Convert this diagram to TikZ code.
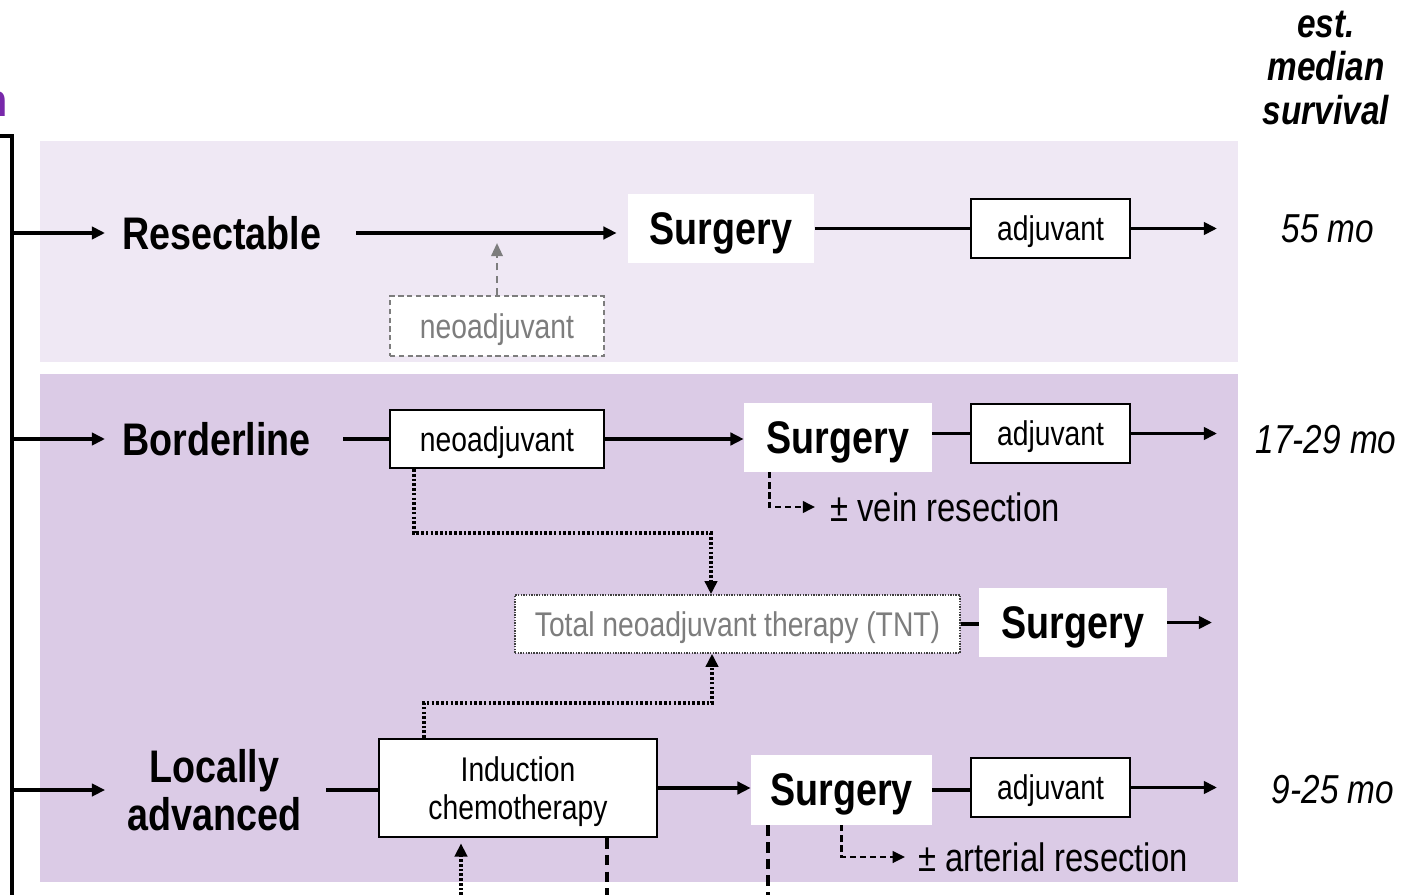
\documentclass[tikz,border=0pt]{standalone}
\usepackage{fontspec}
\setmainfont{Liberation Sans}[FakeStretch=0.825]
\usetikzlibrary{arrows.meta}
\definecolor{resectbg}{RGB}{239,232,244}
\definecolor{advbg}{RGB}{219,203,230}
\definecolor{optgrey}{RGB}{125,125,125}
\definecolor{titlepurple}{RGB}{120,40,170}

\begin{document}
\begin{tikzpicture}[x=0.02cm,y=-0.02cm,
    flow/.style={line width=1.9pt,-{Triangle[length=7.5pt,width=7pt]}},
    link/.style={line width=1.9pt},
    optflow/.style={optgrey,line width=1.4pt,dash pattern=on 4pt off 3pt,-{Triangle[length=7.5pt,width=6.5pt]}},
    dotflow/.style={line width=2pt,dash pattern=on 1.5pt off 1.2pt,-{Triangle[length=7.5pt,width=7pt]}},
    dashflow/.style={line width=1.6pt,dash pattern=on 3.5pt off 2.2pt,-{Triangle[length=7pt,width=6.5pt]}},
    dashline/.style={line width=1.8pt,dash pattern=on 6pt off 3.5pt},
    stage/.style={font=\fontsize{26}{27}\selectfont\bfseries,inner xsep=0.34cm,inner ysep=0pt,align=center},
    surgbox/.style={fill=white,inner sep=0pt,text depth=0pt,minimum width=3.74cm,minimum height=1.4cm,font=\fontsize{26}{27}\selectfont\bfseries},
    txbox/.style={draw,line width=1.3pt,fill=white,inner sep=0pt,text depth=0pt,font=\fontsize{19.5}{22}\selectfont},
    adjbox/.style={txbox,minimum width=3.18cm,minimum height=1.18cm},
    note/.style={anchor=west,inner sep=0pt,font=\fontsize{22.6}{24}\selectfont},
    survive/.style={font=\fontsize{23}{25}\selectfont\itshape}]
  \useasboundingbox (0,0) rectangle (1410,895);
  % background bands
  \fill[resectbg] (40,141) rectangle (1238,362);
  \fill[advbg] (40,374) rectangle (1238,882);

  \node[anchor=base east,inner sep=0pt,text=titlepurple,font=\fontsize{26}{27}\selectfont\bfseries] (cut) at (8,117) {n};
  \node[font=\fontsize{23}{25}\selectfont\bfseries\itshape,align=center] (survhead) at (1326,68) {est.\\median\\survival};

  % resectable
  \node[stage,anchor=west] (resect) at (105,233) {Resectable};
  \node[surgbox] (surg1) at (721,228.5) {Surgery};
  \node[adjbox] (adj1) at (1050.5,228.5) {adjuvant};
  \node[txbox,draw=optgrey,dash pattern=on 3pt off 2pt,text=optgrey,minimum width=4.28cm,minimum height=1.2cm] (neo1) at (497,326) {neoadjuvant};
  \node[survive] (mo1) at (1328,229) {55 mo};
  \coordinate (end1) at (1217,229);

  % borderline
  \node[stage,anchor=west] (border) at (105,439) {Borderline};
  \node[txbox,minimum width=4.28cm,minimum height=1.16cm] (neo2) at (497,439) {neoadjuvant};
  \node[surgbox,minimum width=3.76cm,minimum height=1.38cm] (surg2) at (838,437.5) {Surgery};
  \node[adjbox] (adj2) at (1050.5,433.5) {adjuvant};
  \node[note] (vein) at (830,507) {± vein resection};
  \node[survive] (mo2) at (1326,440) {17-29 mo};
  \coordinate (end2) at (1217,435);

  % TNT
  \node[txbox,draw=black!75,line width=0.9pt,dash pattern=on 0.8pt off 0.7pt,text=optgrey,minimum width=8.9cm,minimum height=1.16cm] (tnt) at (737.5,624) {Total neoadjuvant therapy (TNT)};
  \node[surgbox,minimum width=3.76cm,minimum height=1.38cm] (surg3) at (1073,622.5) {Surgery};
  \coordinate (end3) at (1212,623);

  % locally advanced
  \node[stage,anchor=west] (locadv) at (110,790) {Locally\\advanced};
  \node[txbox,align=center,minimum width=5.56cm,minimum height=1.96cm] (ind) at (518,788) {Induction\\chemotherapy};
  \node[surgbox,minimum width=3.62cm] (surg4) at (841.5,790) {Surgery};
  \node[adjbox] (adj4) at (1050.5,787.5) {adjuvant};
  \node[note] (art) at (918,857) {± arterial resection};
  \node[survive] (mo4) at (1333,790) {9-25 mo};
  \coordinate (end4) at (1217,789);

  % bracket and free ends
  \coordinate (brtop) at (0,136);
  \coordinate (brbot) at (12,895);
  \coordinate (inA) at (461,895);
  \coordinate (outA) at (607,895);
  \coordinate (outB) at (768,895);
  \draw[link] (brtop) -| (brbot);

  \draw[flow] (brbot |- resect.west) -- (resect.west);
  \draw[flow,shorten <=10pt,shorten >=6pt] (resect.east) -- (resect.east -| surg1.west);
  \draw[link] (surg1.east) -- (adj1.west);
  \draw[flow] (adj1.east) -- (adj1.east -| end1);
  \draw[optflow,shorten >=5.7pt] (neo1.north) -- (neo1.north |- resect.east);

  \draw[flow] (brbot |- border.west) -- (border.west);
  \draw[link,shorten <=8.5pt] (border.east) -- (neo2.west);
  \draw[flow] (neo2.east) -- (neo2.east -| surg2.west);
  \draw[link] (adj2.west -| surg2.east) -- (adj2.west);
  \draw[flow] (adj2.east) -- (adj2.east -| end2);
  \draw[dashflow,shorten >=8.5pt] ([xshift=0.52cm]surg2.south west) |- (vein.west);
  \draw[dotflow] ([xshift=0.5cm]neo2.south west) -- ++(0,64) -| ([xshift=-0.53cm]tnt.north);

  \draw[link] (tnt.east) -- (tnt.east -| surg3.west);
  \draw[flow] (surg3.east) -- (surg3.east -| end3);

  \draw[flow,shorten >=2.8pt] (brbot |- locadv.west) -- (locadv.west);
  \draw[link,shorten <=4.5pt] (locadv.east) -- (locadv.east -| ind.west);
  \draw[flow] (ind.east) -- (ind.east -| surg4.west);
  \draw[link] (surg4.east) -- (surg4.east -| adj4.west);
  \draw[flow] (adj4.east) -- (adj4.east -| end4);
  \draw[dashflow,shorten >=7.4pt] ([xshift=1.82cm]surg4.south west) |- (art.west);
  \draw[dotflow] ([xshift=0.92cm]ind.north west) -- ++(0,-35) -| ([xshift=-0.51cm]tnt.south);
  \draw[dotflow,shorten >=3pt] (inA) -- (inA |- ind.south);
  \draw[dashline] (outA |- ind.south) -- (outA);
  \draw[dashline] (outB |- surg4.south) -- (outB);
\end{tikzpicture}
\end{document}
